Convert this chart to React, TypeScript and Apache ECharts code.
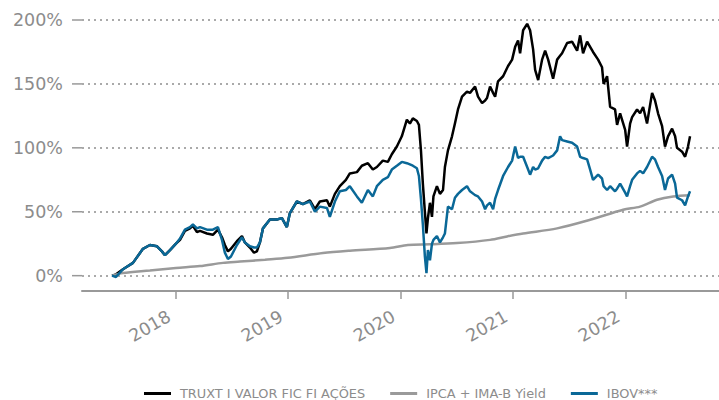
import React, { useEffect, useRef } from "react";
import * as echarts from "echarts";

// Dates as decimal years
const fundYears = [
  2017.430, 2017.466, 2017.528, 2017.617, 2017.706, 2017.768, 2017.831, 2017.875, 2017.902, 2017.947,
  2018.000, 2018.036, 2018.080, 2018.125, 2018.151, 2018.187, 2018.214, 2018.276, 2018.329, 2018.374,
  2018.410, 2018.436, 2018.463, 2018.490, 2018.543, 2018.588, 2018.614, 2018.659, 2018.695, 2018.721,
  2018.748, 2018.775, 2018.837, 2018.899, 2018.944, 2018.988, 2019.015, 2019.077, 2019.131, 2019.193,
  2019.238, 2019.282, 2019.345, 2019.371, 2019.416, 2019.460, 2019.514, 2019.549, 2019.612, 2019.656,
  2019.710, 2019.754, 2019.790, 2019.843, 2019.888, 2019.923, 2019.968, 2020.012, 2020.057, 2020.084,
  2020.110, 2020.146, 2020.164, 2020.182, 2020.199, 2020.217, 2020.231, 2020.244, 2020.262, 2020.280,
  2020.293, 2020.324, 2020.351, 2020.378, 2020.395, 2020.422, 2020.458, 2020.484, 2020.511, 2020.547,
  2020.591, 2020.618, 2020.663, 2020.689, 2020.725, 2020.752, 2020.769, 2020.796, 2020.823, 2020.841,
  2020.867, 2020.912, 2020.956, 2020.992, 2021.019, 2021.045, 2021.063, 2021.090, 2021.126, 2021.152,
  2021.179, 2021.197, 2021.224, 2021.259, 2021.286, 2021.313, 2021.357, 2021.393, 2021.419, 2021.437,
  2021.482, 2021.526, 2021.571, 2021.598, 2021.624, 2021.660, 2021.687, 2021.713, 2021.758, 2021.793,
  2021.807, 2021.838, 2021.865, 2021.909, 2021.927, 2021.954, 2021.999, 2022.016, 2022.043, 2022.061,
  2022.105, 2022.132, 2022.159, 2022.194, 2022.239, 2022.265, 2022.292, 2022.328, 2022.354, 2022.381,
  2022.417, 2022.444, 2022.461, 2022.506, 2022.533, 2022.559, 2022.577,
];

const truxtValues = [
  0, 1, 5, 10, 21, 24, 23, 19, 16, 20,
  25, 28, 35, 37, 39, 34, 35, 33, 32, 36,
  30, 24, 19, 21, 27, 31, 26, 22, 18, 19,
  26, 37, 44, 44, 45, 38, 49, 58, 56, 59,
  52, 58, 59, 54, 64, 70, 75, 80, 81, 86,
  88, 83, 85, 90, 89, 95, 101, 109, 122, 119,
  123, 121, 118, 98, 72, 50, 33, 45, 57, 46,
  62, 70, 64, 67, 85, 98, 109, 119, 130, 140,
  144, 143, 148, 140, 135, 137, 139, 148, 143, 140,
  152, 156, 164, 169, 179, 184, 174, 192, 197, 192,
  177, 161, 153, 169, 176, 169, 154, 169, 172, 174,
  182, 183, 176, 188, 174, 183, 179, 175, 169, 163,
  150, 156, 132, 130, 118, 127, 114, 101, 119, 124,
  130, 127, 132, 119, 143, 137, 127, 117, 101, 109,
  115, 109, 100, 97, 93, 101, 109,
];

const ibovValues = [
  0, -1, 5, 10, 21, 24, 23, 19, 16, 20,
  25, 29, 36, 38, 40, 37, 38, 36, 36, 38,
  28, 18, 13, 15, 24, 30, 26, 23, 22, 22,
  26, 37, 44, 44, 45, 38, 49, 58, 56, 58,
  50, 54, 53, 46, 58, 66, 67, 70, 62, 57,
  67, 62, 70, 75, 77, 83, 86, 89, 88, 87,
  86, 84, 78, 60, 40, 15, 2, 20, 12, 25,
  28, 31, 26, 30, 33, 54, 52, 61, 64, 67,
  70, 66, 63, 62, 58, 52, 55, 57, 52, 60,
  67, 78, 85, 90, 101, 92, 93, 93, 85, 79,
  85, 83, 84, 90, 93, 92, 94, 98, 109, 106,
  105, 104, 101, 93, 92, 91, 83, 75, 79, 76,
  70, 67, 70, 66, 68, 72, 65, 62, 70, 75,
  80, 82, 80, 85, 93, 91, 85, 78, 67, 76,
  79, 72, 61, 59, 55, 62, 66,
];

const ipcaYears = [
  2017.430, 2017.528, 2017.768, 2018.000, 2018.214, 2018.419, 2018.570, 2018.793, 2018.997, 2019.309,
  2019.549, 2019.906, 2020.066, 2020.262, 2020.502, 2020.796, 2020.947, 2021.090, 2021.393, 2021.687,
  2021.981, 2022.132, 2022.283, 2022.426, 2022.577,
];
const ipcaValues = [
  0, 2, 4, 6, 7.5, 10, 11, 12.5, 14, 17.7,
  19.5, 21.6, 24, 24.5, 25.5, 28, 30.7, 33, 37, 43.7,
  51.6, 54, 59.4, 62, 63,
];

const seriesNames = ["TRUXT I VALOR FIC FI AÇÕES", "IPCA + IMA-B Yield", "IBOV***"];
const yTicks = [0, 50, 100, 150, 200];
const xRange = [2017.163, 2022.835];
const yRange = [-12, 200];

const toTs = (y: number) => {
  const yr = Math.floor(y);
  const s = Date.UTC(yr, 0, 1);
  const e = Date.UTC(yr + 1, 0, 1);
  return s + (y - yr) * (e - s);
};

const zip = (xs: number[], ys: number[]) => xs.map((x, i) => [toTs(x), ys[i]]);

export default function App() {
  const ref = useRef<HTMLDivElement>(null);
  useEffect(() => {
    if (!ref.current) return;
    document.body.style.margin = "0";
    const chart = echarts.init(ref.current, undefined, { renderer: "svg" });
    const gray = "#8c8c8c";
    const year = 365.25 * 24 * 3600 * 1000;
    chart.setOption({
      animation: false,
      useUTC: true,
      textStyle: { fontFamily: "DejaVu Sans" },
      grid: { left: 82, right: 0, top: 20, bottom: 109, containLabel: false },
      legend: {
        top: 387,
        left: 144,
        padding: 0,
        icon: "rect",
        itemWidth: 27,
        itemHeight: 3,
        itemGap: 25,
        textStyle: { color: gray, fontSize: 12.9, fontFamily: "DejaVu Sans", padding: [0, 0, 0, 4] },
        data: seriesNames,
      },
      xAxis: {
        type: "time",
        min: toTs(xRange[0]),
        max: toTs(xRange[1]),
        minInterval: year * 0.99,
        maxInterval: year * 1.01,
        axisLine: { show: true, onZero: false, lineStyle: { color: "#999999", width: 2 } },
        axisTick: { show: true, length: 8, lineStyle: { color: "#999999", width: 1.5 } },
        splitLine: { show: false },
        axisLabel: {
          rotate: 30,
          margin: 20,
          align: "right",
          verticalAlign: "middle",
          padding: [0, 8, 0, 0],
          color: gray,
          fontSize: 17.5,
          fontWeight: "normal",
          fontFamily: "DejaVu Sans",
          formatter: (v: number) => String(new Date(v).getUTCFullYear()),
        },
      },
      yAxis: {
        type: "value",
        min: yRange[0],
        max: yRange[1],
        splitNumber: 4,
        axisLine: { show: false },
        axisTick: { show: false },
        axisLabel: {
          customValues: yTicks,
          margin: 19,
          color: gray,
          fontSize: 17.5,
          fontFamily: "DejaVu Sans",
          formatter: (v: number) => `${v}%`,
        },
        splitLine: {
          show: true,
          lineStyle: { color: "#aaaaaa", width: 2, type: [2, 4] },
        },
      },
      series: [
        {
          name: "yTicks",
          type: "custom",
          silent: true,
          clip: false,
          data: yTicks.map((v) => [toTs(xRange[0]), v]),
          renderItem: (_p: any, api: any) => {
            const pt = api.coord([api.value(0), api.value(1)]);
            return {
              type: "line",
              shape: { x1: pt[0] - 10, y1: pt[1], x2: pt[0], y2: pt[1] },
              style: { stroke: "#999999", lineWidth: 1.5 },
            };
          },
        },
        {
          name: seriesNames[0],
          type: "line",
          data: zip(fundYears, truxtValues),
          showSymbol: false,
          symbol: "none",
          lineStyle: { color: "#000000", width: 2.5 },
          itemStyle: { color: "#000000" },
        },
        {
          name: seriesNames[1],
          type: "line",
          data: zip(ipcaYears, ipcaValues),
          showSymbol: false,
          symbol: "none",
          smooth: 0.3,
          lineStyle: { color: "#9a9a9a", width: 2.5 },
          itemStyle: { color: "#9a9a9a" },
        },
        {
          name: seriesNames[2],
          type: "line",
          data: zip(fundYears, ibovValues),
          showSymbol: false,
          symbol: "none",
          lineStyle: { color: "#0a6897", width: 2.5 },
          itemStyle: { color: "#0a6897" },
        },
      ],
    });
    return () => chart.dispose();
  }, []);
  return <div ref={ref} style={{ width: 719, height: 400 }} />;
}
